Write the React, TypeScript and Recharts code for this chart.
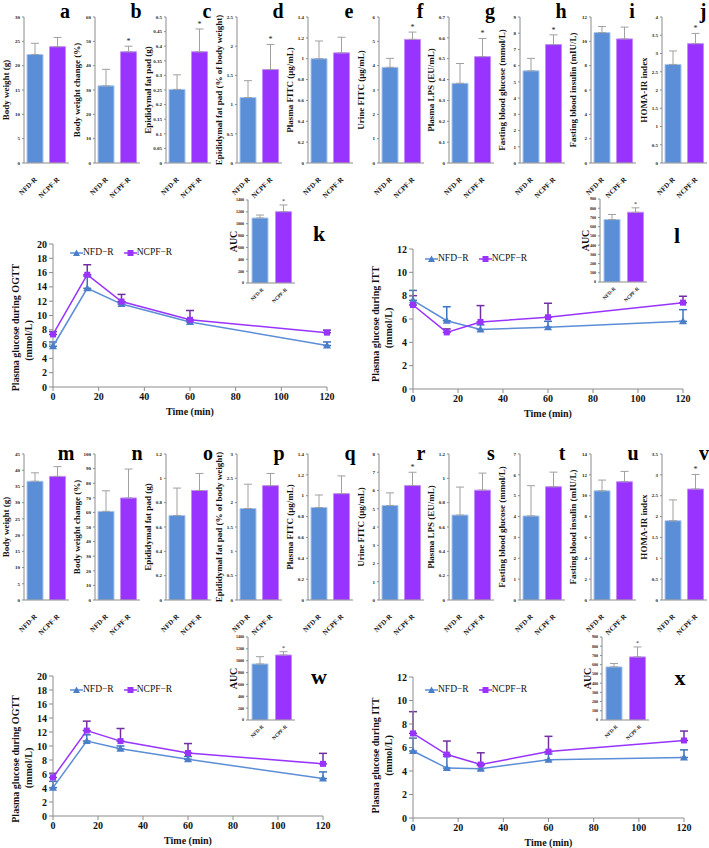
import React from 'react';
import { BarChart, Bar, Cell, XAxis, YAxis, ErrorBar, LabelList, LineChart, Line, Legend } from 'recharts';

const FONT = "'Liberation Serif', 'Times New Roman', serif";
const groups = ['NFD-R', 'NCPF-R'];
const seriesNames = ['NFD−R', 'NCPF−R'];
const barFill = ['#5A8ED6', '#9933FF'];
const barEdge = ['#A9C6EE', '#C58BFF'];
const lineBlue = '#5B8ED6';
const lineBlueErr = '#3E74BC';
const linePurple = '#9933FF';
const linePurpleErr = '#7030A0';

// panels a-j
const topLetters = ['a', 'b', 'c', 'd', 'e', 'f', 'g', 'h', 'i', 'j'];
const topTitles = [
  'Body weight (g)', 'Body weight change (%)', 'Epididymal fat pad (g)', 'Epididymal fat pad (% of body weight)',
  'Plasma FITC (μg/mL)', 'Urine FITC (μg/mL)', 'Plasma LPS (EU/mL)', 'Fasting blood glucose (mmol/L)',
  'Fasting blood insulin (mIU/L)', 'HOMA-IR index',
];
const topNfd = [22.3, 31.7, 0.252, 1.12, 1.0, 3.93, 0.382, 5.68, 10.72, 2.7];
const topNfdErr = [2.3, 6.8, 0.05, 0.29, 0.17, 0.37, 0.095, 0.77, 0.5, 0.37];
const topNcpf = [23.9, 45.7, 0.381, 1.6, 1.056, 5.08, 0.51, 7.3, 10.2, 3.27];
const topNcpfErr = [1.9, 2.3, 0.078, 0.43, 0.15, 0.3, 0.087, 0.6, 0.97, 0.28];
const topMax = [30, 60, 0.5, 2.5, 1.4, 6, 0.7, 9, 12, 4];
const topStep = [5, 10, 0.05, 0.5, 0.2, 1, 0.1, 1, 2, 0.5];
const topSig = [false, true, true, true, false, true, true, true, false, true];

// panels m-v
const botLetters = ['m', 'n', 'o', 'p', 'q', 'r', 's', 't', 'u', 'v'];
const botTitles = topTitles;
const botNfd = [36.6, 60.7, 0.695, 1.88, 0.887, 5.18, 0.698, 4.03, 10.47, 1.9];
const botNfdErr = [2.6, 14.1, 0.225, 0.5, 0.12, 0.69, 0.23, 1.45, 1.03, 0.5];
const botNcpf = [38.1, 69.9, 0.9, 2.35, 1.02, 6.27, 0.903, 5.43, 11.34, 2.66];
const botNcpfErr = [3.0, 19.8, 0.14, 0.25, 0.17, 0.73, 0.14, 0.7, 0.99, 0.35];
const botMax = [45, 100, 1.2, 3, 1.4, 8, 1.2, 7, 14, 3.5];
const botStep = [5, 10, 0.2, 0.5, 0.2, 1, 0.2, 1, 2, 0.5];
const botSig = [false, false, false, false, false, true, false, false, false, true];

// glucose tolerance curves
const times = [0, 15, 30, 60, 120];
const timeTicks = [0, 20, 40, 60, 80, 100, 120];
const ogttTopNfd = [5.7, 13.8, 11.6, 9.1, 5.8];
const ogttTopNfdErr = [0.6, 1.7, 0.3, 0.3, 0.5];
const ogttTopNcpf = [7.35, 15.7, 11.95, 9.4, 7.6];
const ogttTopNcpfErr = [0.4, 1.4, 1.0, 1.3, 0.35];
const ittTopNfd = [7.6, 5.85, 5.1, 5.3, 5.8];
const ittTopNfdErr = [0.85, 1.2, 0.4, 0.5, 1.0];
const ittTopNcpf = [7.2, 4.85, 5.75, 6.15, 7.4];
const ittTopNcpfErr = [0.8, 0.3, 1.4, 1.2, 0.55];
const ogttBotNfd = [4.05, 10.7, 9.6, 8.1, 5.35];
const ogttBotNfdErr = [0.9, 0.9, 0.4, 0.4, 0.95];
const ogttBotNcpf = [5.5, 12.2, 10.7, 9.0, 7.45];
const ogttBotNcpfErr = [0.6, 1.35, 1.8, 1.35, 1.5];
const ittBotNfd = [5.7, 4.25, 4.2, 4.95, 5.15];
const ittBotNfdErr = [1.1, 1.0, 0.3, 0.5, 0.65];
const ittBotNcpf = [7.2, 5.4, 4.55, 5.65, 6.6];
const ittBotNcpfErr = [1.85, 1.15, 1.0, 1.3, 0.8];

// AUC insets k, l, w, x
const aucLetters = ['k', 'l', 'w', 'x'];
const aucNfd = [1096, 677, 945, 576];
const aucNfdErr = [50, 55, 123, 36];
const aucNcpf = [1203, 756, 1096, 684];
const aucNcpfErr = [113, 48, 56, 108];
const aucMax = [1400, 900, 1400, 900];
const aucStep = [200, 100, 200, 100];

const makeTicks = (max: number, step: number) => {
  const out: number[] = [];
  for (let k = 0; k <= Math.round(max / step); k++) out.push(Math.round(k * step * 1000) / 1000);
  return out;
};

const CatTick = (props: any) => {
  const { x, y, payload, fs, dx, dy } = props;
  const ax = x + dx;
  const ay = y + dy;
  return (
    <text x={ax} y={ay} transform={`rotate(-45 ${ax} ${ay})`} textAnchor="end" fontSize={fs}
      fontWeight="bold" fontFamily={FONT} fill="#111">
      {payload.value}
    </text>
  );
};

const VLabel = (props: any) => {
  const { viewBox, value, x0, fs } = props;
  const cx = viewBox.x + x0;
  const cy = viewBox.y + viewBox.height / 2;
  return (
    <text x={cx} y={cy} transform={`rotate(-90 ${cx} ${cy})`} textAnchor="middle" dominantBaseline="central"
      fontSize={fs} fontWeight="bold" fontFamily={FONT} fill="#111">
      {value}
    </text>
  );
};

const Letter = ({ left, top, ch, fs = 20 }: any) => (
  <div style={{ position: 'absolute', left, top, fontFamily: FONT, fontWeight: 'bold', fontSize: fs, lineHeight: `${fs + 2}px`, transform: 'translateX(-50%)', color: '#000' }}>
    {ch}
  </div>
);

function BarPanel(props: any) {
  const { left, top, width, height, axisW, mTop, mRight, xH, title, nfd, nfdErr, ncpf, ncpfErr, max, step, sig,
    tickFs, catFs, catDx, catDy, labelFs, labelX, starFs, barSize } = props;
  const data = [
    { g: groups[0], v: nfd, e: [0, nfdErr], err: nfdErr, star: false },
    { g: groups[1], v: ncpf, e: [0, ncpfErr], err: ncpfErr, star: sig },
  ];
  const star = (p: any) => {
    const vb = p.viewBox || p;
    const d = p.index != null ? data[p.index] : data.find((r) => r.v === p.value);
    if (!d || !d.star || !vb || !vb.height) return null;
    const y = vb.y - (d.err * vb.height) / d.v - 2;
    return (
      <text x={vb.x + vb.width / 2} y={y} textAnchor="middle" fontSize={starFs} fontFamily={FONT} fill="#222">*</text>
    );
  };
  return (
    <div style={{ position: 'absolute', left, top }}>
      <BarChart width={width} height={height} data={data} margin={{ top: mTop, right: mRight, left: 0, bottom: 0 }}>
        <XAxis dataKey="g" type="category" interval={0} height={xH} tickSize={0} tickMargin={0}
          axisLine={{ stroke: '#8c8c8c' }} tickLine={false}
          tick={<CatTick fs={catFs} dx={catDx} dy={catDy} />} />
        <YAxis type="number" domain={[0, max]} allowDataOverflow ticks={makeTicks(max, step)} interval={0} width={axisW}
          tickSize={2} tickMargin={2} axisLine={{ stroke: '#8c8c8c' }} tickLine={{ stroke: '#8c8c8c' }}
          tickFormatter={(v: number) => String(Math.round(v * 1000) / 1000)}
          tick={{ fontSize: tickFs, fontWeight: 'bold', fill: '#222', fontFamily: FONT }}
          label={{ value: title, content: (p: any) => <VLabel {...p} x0={labelX} fs={labelFs} /> }} />
        <Bar dataKey="v" barSize={barSize} isAnimationActive={false}>
          {data.map((d, i) => (
            <Cell key={d.g} fill={barFill[i]} stroke={barEdge[i]} strokeWidth={1} />
          ))}
          <ErrorBar dataKey="e" direction="y" width={4} stroke="#a0a0a0" strokeWidth={1} />
          <LabelList dataKey="v" content={star} />
        </Bar>
      </BarChart>
    </div>
  );
}

const triangleDot = (p: any) => {
  const { cx, cy, index } = p;
  if (cx == null || cy == null) return <g key={`t${index}`} />;
  return <path key={`t${index}`} d={`M${cx},${cy - 4} L${cx + 4},${cy + 3} L${cx - 4},${cy + 3} Z`} fill="#4A7EC8" />;
};
const squareDot = (p: any) => {
  const { cx, cy, index } = p;
  if (cx == null || cy == null) return <g key={`s${index}`} />;
  return <rect key={`s${index}`} x={cx - 3} y={cy - 3} width={6} height={6} fill={linePurple} />;
};

const LineLegend = (props: any) => {
  const { payload = [] } = props;
  const items = [...payload].sort((a: any, b: any) => seriesNames.indexOf(a.value) - seriesNames.indexOf(b.value));
  return (
    <div style={{ display: 'flex', alignItems: 'center', fontFamily: FONT, fontSize: 9.5, whiteSpace: 'nowrap', lineHeight: '11px', color: '#111' }}>
      {items.map((entry: any) => {
        const isNfd = entry.value === seriesNames[0];
        return (
          <div key={entry.value} style={{ display: 'flex', alignItems: 'center', marginRight: isNfd ? 10 : 0 }}>
            <svg width={13} height={8} style={{ display: 'block' }}>
              <line x1={0} y1={4} x2={13} y2={4} stroke={isNfd ? lineBlue : linePurple} strokeWidth={1.5} />
              {isNfd
                ? <path d="M6.5,0.5 L10,7 L3,7 Z" fill="#4A7EC8" />
                : <rect x={3.5} y={1} width={6} height={6} fill={linePurple} />}
            </svg>
            <span>{entry.value}</span>
          </div>
        );
      })}
    </div>
  );
};

function LinePanel(props: any) {
  const { left, top, width, height, mTop, mRight, axisW, xH, yMax, nfd, nfdErr, ncpf, ncpfErr, yTitle,
    lab1X, lab2X, lab1Dy, lab2Dy, legendX, legendY } = props;
  const data = times.map((t, i) => ({
    t, nfd: nfd[i], nfdE: [0, nfdErr[i]], ncpf: ncpf[i], ncpfE: [0, ncpfErr[i]],
  }));
  const tickStyle = { fontSize: 10, fontWeight: 'bold', fill: '#111', fontFamily: FONT };
  const yLabel = (p: any) => {
    const vb = p.viewBox;
    const c = vb.y + vb.height / 2;
    const x1 = vb.x + lab1X;
    const x2 = vb.x + lab2X;
    return (
      <g fontFamily={FONT} fontWeight="bold" fontSize={10} fill="#111">
        <text x={x1} y={c + lab1Dy} transform={`rotate(-90 ${x1} ${c + lab1Dy})`} textAnchor="middle" dominantBaseline="central">{yTitle}</text>
        <text x={x2} y={c + lab2Dy} transform={`rotate(-90 ${x2} ${c + lab2Dy})`} textAnchor="middle" dominantBaseline="central">(mmol/L)</text>
      </g>
    );
  };
  const xLabel = (p: any) => {
    const vb = p.viewBox;
    return (
      <text x={vb.x + vb.width / 2} y={vb.y + 24} textAnchor="middle" dominantBaseline="central"
        fontFamily={FONT} fontWeight="bold" fontSize={10} fill="#111">Time (min)</text>
    );
  };
  return (
    <div style={{ position: 'absolute', left, top }}>
      <LineChart width={width} height={height} data={data} margin={{ top: mTop, right: mRight, left: 0, bottom: 0 }}>
        <XAxis dataKey="t" type="number" domain={[0, 120]} ticks={timeTicks} interval={0} height={xH} tickSize={4} tickMargin={2}
          axisLine={{ stroke: '#8c8c8c' }} tickLine={{ stroke: '#8c8c8c' }} tick={tickStyle}
          label={{ content: xLabel }} />
        <YAxis type="number" domain={[0, yMax]} allowDataOverflow ticks={makeTicks(yMax, 2)} interval={0} width={axisW}
          tickSize={4} tickMargin={2} axisLine={{ stroke: '#8c8c8c' }} tickLine={{ stroke: '#8c8c8c' }}
          tick={tickStyle} label={{ content: yLabel }} />
        <Legend layout="horizontal" verticalAlign="middle" align="center" content={<LineLegend />}
          wrapperStyle={{ left: legendX, top: legendY, width: 'auto', height: 'auto' }} />
        <Line dataKey="nfd" name={seriesNames[0]} stroke={lineBlue} strokeWidth={1.5} dot={triangleDot} isAnimationActive={false}>
          <ErrorBar dataKey="nfdE" direction="y" width={4} stroke={lineBlueErr} strokeWidth={1.5} />
        </Line>
        <Line dataKey="ncpf" name={seriesNames[1]} stroke={linePurple} strokeWidth={1.5} dot={squareDot} isAnimationActive={false}>
          <ErrorBar dataKey="ncpfE" direction="y" width={4} stroke={linePurpleErr} strokeWidth={1.5} />
        </Line>
      </LineChart>
    </div>
  );
}

const smallPanel = {
  width: 71, height: 200, axisW: 24, mTop: 17, mRight: 2, xH: 37,
  tickFs: 5, catFs: 7, catDx: 2, catDy: 17, labelFs: 9, labelX: 6, starFs: 8, barSize: 16,
};
const insetPanel = {
  width: 80, height: 135, axisW: 28, mTop: 15, mRight: 5, xH: 37,
  tickFs: 4, catFs: 5, catDx: 4, catDy: 7, labelFs: 10, labelX: 13, starFs: 6, barSize: 16,
};
const insetPos = [
  { left: 220, top: 185, lx: 319, ly: 222 },
  { left: 572, top: 184, lx: 677, ly: 224 },
  { left: 220, top: 622, lx: 319, ly: 665 },
  { left: 574, top: 622, lx: 680, ly: 666 },
];

export default function App() {
  return (
    <div style={{ position: 'absolute', left: 0, top: 0, width: 709, height: 848, background: '#fff', overflow: 'hidden' }}>
      {topLetters.map((ch, i) => (
        <BarPanel key={ch} {...smallPanel} left={Math.round(i * 70.9)} top={0} title={topTitles[i]}
          nfd={topNfd[i]} nfdErr={topNfdErr[i]} ncpf={topNcpf[i]} ncpfErr={topNcpfErr[i]}
          max={topMax[i]} step={topStep[i]} sig={topSig[i]} />
      ))}
      {topLetters.map((ch, i) => (
        <Letter key={`L${ch}`} left={Math.round(i * 70.9) + 65} top={0} ch={ch} />
      ))}

      {botLetters.map((ch, i) => (
        <BarPanel key={ch} {...smallPanel} left={Math.round(i * 70.9)} top={437} title={botTitles[i]}
          nfd={botNfd[i]} nfdErr={botNfdErr[i]} ncpf={botNcpf[i]} ncpfErr={botNcpfErr[i]}
          max={botMax[i]} step={botStep[i]} sig={botSig[i]} />
      ))}
      {botLetters.map((ch, i) => (
        <Letter key={`L${ch}`} left={Math.round(i * 70.9) + 66} top={442} ch={ch} />
      ))}

      <LinePanel left={0} top={230} width={355} height={195} mTop={14} mRight={28} axisW={53} xH={38} yMax={20}
        nfd={ogttTopNfd} nfdErr={ogttTopNfdErr} ncpf={ogttTopNcpf} ncpfErr={ogttTopNcpfErr}
        yTitle="Plasma glucose during OGTT" lab1X={15} lab2X={28} lab1Dy={12} lab2Dy={25} legendX={70} legendY={17} />
      <LinePanel left={355} top={230} width={354} height={195} mTop={19} mRight={26} axisW={58} xH={36} yMax={12}
        nfd={ittTopNfd} nfdErr={ittTopNfdErr} ncpf={ittTopNcpf} ncpfErr={ittTopNcpfErr}
        yTitle="Plasma glucose during ITT" lab1X={20} lab2X={33} lab1Dy={5} lab2Dy={9} legendX={70} legendY={23} />
      <LinePanel left={0} top={660} width={355} height={188} mTop={16} mRight={32} axisW={53} xH={32} yMax={20}
        nfd={ogttBotNfd} nfdErr={ogttBotNfdErr} ncpf={ogttBotNcpf} ncpfErr={ogttBotNcpfErr}
        yTitle="Plasma glucose during OGTT" lab1X={15} lab2X={28} lab1Dy={13} lab2Dy={22} legendX={70} legendY={24} />
      <LinePanel left={355} top={660} width={354} height={188} mTop={17} mRight={25} axisW={58} xH={30} yMax={12}
        nfd={ittBotNfd} nfdErr={ittBotNfdErr} ncpf={ittBotNcpf} ncpfErr={ittBotNcpfErr}
        yTitle="Plasma glucose during ITT" lab1X={20} lab2X={33} lab1Dy={8} lab2Dy={8} legendX={70} legendY={24} />

      {aucLetters.map((ch, i) => (
        <BarPanel key={`auc${ch}`} {...insetPanel} left={insetPos[i].left} top={insetPos[i].top} title="AUC"
          nfd={aucNfd[i]} nfdErr={aucNfdErr[i]} ncpf={aucNcpf[i]} ncpfErr={aucNcpfErr[i]}
          max={aucMax[i]} step={aucStep[i]} sig={true} />
      ))}
      {aucLetters.map((ch, i) => (
        <Letter key={`L${ch}`} left={insetPos[i].lx} top={insetPos[i].ly} ch={ch} fs={22} />
      ))}
    </div>
  );
}
